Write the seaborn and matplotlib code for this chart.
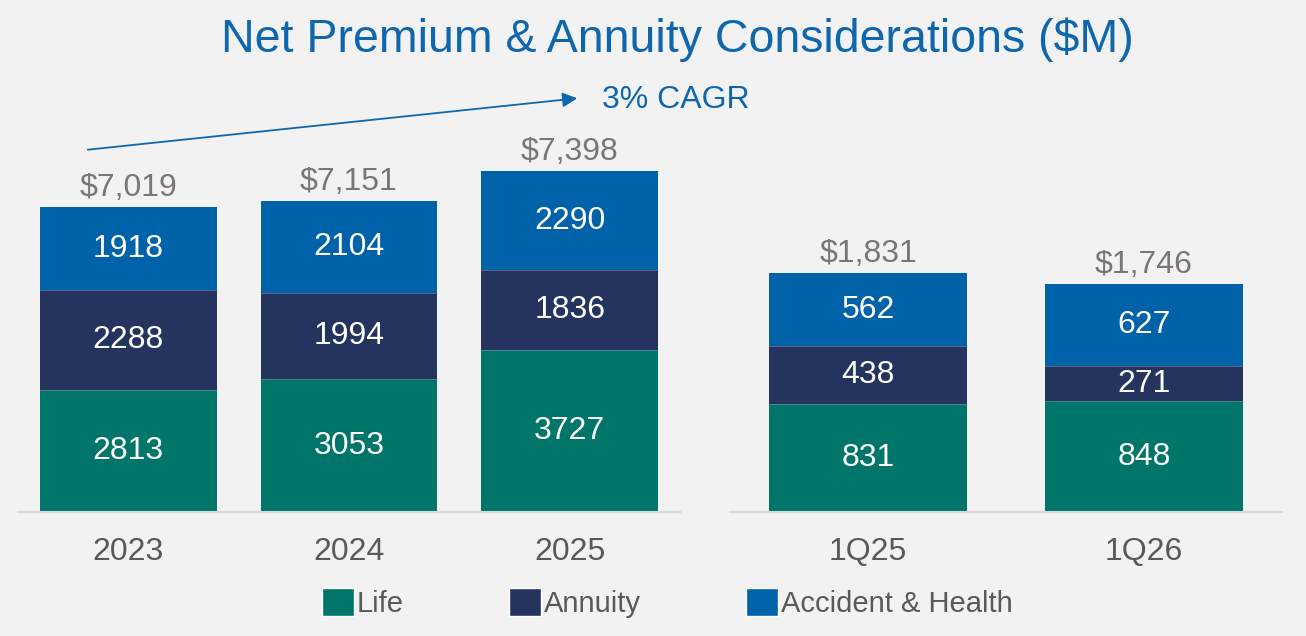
import numpy as np
import pandas as pd
import matplotlib
matplotlib.use('Agg')
import matplotlib.pyplot as plt
from matplotlib.patches import Patch
import seaborn as sns

# data
years = ['2023', '2024', '2025']
life_y = [2813, 3053, 3727]
annuity_y = [2288, 1994, 1836]
ah_y = [1918, 2104, 2290]
total_y = ['$7,019', '$7,151', '$7,398']

quarters = ['1Q25', '1Q26']
life_q = [831, 848]
annuity_q = [438, 271]
ah_q = [562, 627]
total_q = ['$1,831', '$1,746']

c_life = '#00756A'
c_ann = '#24345E'
c_ah = '#0062A8'
c_title = '#0E66AE'
bg = '#F2F2F2'

sns.set_theme(style='white')
plt.rcParams['font.family'] = ['Liberation Sans', 'DejaVu Sans']

fig = plt.figure(figsize=(13.06, 6.36), dpi=100, facecolor=bg)
ax1 = fig.add_axes([18/1306, 1-512/636, 662/1306, 382/636])
ax2 = fig.add_axes([730/1306, 1-512/636, 552/1306, 382/636])


def stacked(ax, cats, life, ann, ah, totals, width, ytop):
    df = pd.DataFrame({'cat': cats, 'life': life, 'ann': ann, 'ah': ah})
    df['la'] = df['life'] + df['ann']
    df['top'] = df['la'] + df['ah']
    # draw tallest first so the lower pieces sit on top
    sns.barplot(data=df, x='cat', y='top', color=c_ah, saturation=1, width=width, ax=ax, linewidth=0)
    sns.barplot(data=df, x='cat', y='la', color=c_ann, saturation=1, width=width, ax=ax, linewidth=0)
    sns.barplot(data=df, x='cat', y='life', color=c_life, saturation=1, width=width, ax=ax, linewidth=0)
    # faint separators between pieces
    for i, r in df.iterrows():
        for yy in [r['life'], r['la']]:
            ax.plot([i - width/2, i + width/2], [yy, yy], color='#8C9BB0', lw=0.6, alpha=0.6)
    for i, r in df.iterrows():
        ax.text(i, r['life'] / 2, str(r['life']), ha='center', va='center', color='white', fontsize=23)
        ax.text(i, r['life'] + r['ann'] / 2, str(r['ann']), ha='center', va='center', color='white', fontsize=23)
        ax.text(i, r['la'] + r['ah'] / 2, str(r['ah']), ha='center', va='center', color='white', fontsize=23)
        ax.annotate(totals[i], (i, r['top']), xytext=(0, 3), textcoords='offset points',
                    ha='center', va='bottom', color='#7A7676', fontsize=23)
    ax.set_xlim(-0.5, len(cats) - 0.5)
    ax.set_ylim(0, ytop)
    ax.set_facecolor(bg)
    ax.set_xlabel('')
    ax.set_ylabel('')
    ax.set_yticks([])
    ax.tick_params(axis='x', length=0, pad=18, labelsize=23, labelcolor='#595959')
    for s in ['top', 'left', 'right']:
        ax.spines[s].set_visible(False)
    ax.spines['bottom'].set_color('#D9D9D9')
    ax.spines['bottom'].set_linewidth(1.5)


stacked(ax1, years, life_y, annuity_y, ah_y, total_y, 0.80, 382/0.04345)
stacked(ax2, quarters, life_q, annuity_q, ah_q, total_q, 0.72, 382/0.1305)

fig.text(0.519, 1-40/636, 'Net Premium & Annuity Considerations ($M)', ha='center', va='center',
         color=c_title, fontsize=33.5)

# CAGR arrow
fig.patches.append(matplotlib.patches.FancyArrowPatch(
    (85/1306, 1-150/636), (580/1306, 1-98/636), transform=fig.transFigure,
    arrowstyle='-|>', mutation_scale=22, color=c_title, lw=1.3))
fig.text(602/1306, 1-100/636, '3% CAGR', ha='left', va='center', color=c_title, fontsize=23)

handles = [Patch(facecolor=c_life, label='Life'),
           Patch(facecolor=c_ann, label='Annuity'),
           Patch(facecolor=c_ah, label='Accident & Health')]
leg = fig.legend(handles=handles, loc='center', bbox_to_anchor=(0.511, 1-603/636), ncol=3,
                 frameon=False, fontsize=21, handlelength=1.1, handleheight=1.1,
                 handletextpad=0.1, columnspacing=3.6, borderaxespad=0)
for t in leg.get_texts():
    t.set_color('#595959')

fig.savefig('out.png', dpi=100, facecolor=bg)
